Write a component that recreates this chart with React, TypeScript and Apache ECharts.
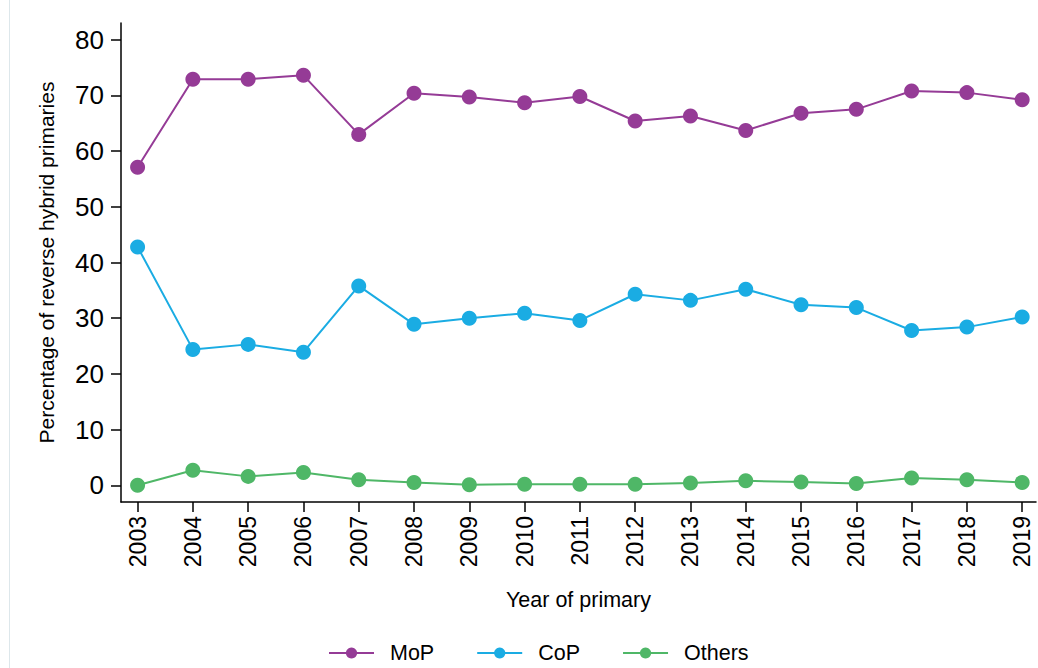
import React, { useEffect, useRef } from "react";
import * as echarts from "echarts";

const years = [2003, 2004, 2005, 2006, 2007, 2008, 2009, 2010, 2011, 2012, 2013, 2014, 2015, 2016, 2017, 2018, 2019];
const mop = [57.1, 72.9, 72.9, 73.6, 63.0, 70.4, 69.7, 68.7, 69.8, 65.4, 66.3, 63.7, 66.8, 67.5, 70.8, 70.5, 69.2];
const cop = [42.8, 24.4, 25.3, 23.9, 35.8, 28.9, 30.0, 30.9, 29.6, 34.3, 33.2, 35.2, 32.4, 31.9, 27.8, 28.4, 30.2];
const others = [0.0, 2.7, 1.6, 2.3, 1.0, 0.5, 0.1, 0.2, 0.2, 0.2, 0.4, 0.8, 0.6, 0.3, 1.3, 1.0, 0.5];
const yTicks = [0, 10, 20, 30, 40, 50, 60, 70, 80];

const FONT = "'Liberation Sans', Arial, sans-serif";

export default function App() {
  const ref = useRef<HTMLDivElement>(null);
  useEffect(() => {
    document.body.style.margin = "0";
    const chart = echarts.init(ref.current!, undefined, { renderer: "svg" });
    const mk = (name: string, vals: number[], color: string) => ({
      name,
      type: "line",
      data: years.map((y, i) => [y, vals[i]]),
      symbol: "circle",
      symbolSize: 15,
      showSymbol: true,
      lineStyle: { width: 2, color },
      itemStyle: { color },
      emphasis: { disabled: true },
    });
    chart.setOption({
      animation: false,
      backgroundColor: "#ffffff",
      textStyle: { fontFamily: FONT },
      grid: { left: 121, right: 2, top: 23, bottom: 166, containLabel: false },
      xAxis: {
        type: "value",
        min: 2002.7,
        max: 2019.25,
        name: "Year of primary",
        nameLocation: "middle",
        nameGap: 87,
        nameTextStyle: { fontSize: 21.5, color: "#000", fontFamily: FONT },
        axisLine: { show: true, onZero: false, lineStyle: { color: "#000", width: 1.5 } },
        axisTick: { show: true, length: 10, customValues: years, lineStyle: { color: "#000", width: 1.5 } },
        axisLabel: {
          customValues: years,
          rotate: 90,
          margin: 14,
          fontSize: 23,
          color: "#000",
          fontFamily: FONT,
          formatter: (v: number) => String(v),
        },
        splitLine: { show: false },
      },
      yAxis: {
        type: "value",
        min: -3,
        max: 83,
        name: "Percentage of reverse hybrid primaries",
        nameLocation: "middle",
        nameGap: 64,
        nameTextStyle: { fontSize: 21, color: "#000", fontFamily: FONT },
        axisLine: { show: true, onZero: false, lineStyle: { color: "#000", width: 1.5 } },
        axisTick: { show: true, length: 10, customValues: yTicks, lineStyle: { color: "#000", width: 1.5 } },
        axisLabel: { customValues: yTicks, margin: 17, fontSize: 26, color: "#000", fontFamily: FONT },
        splitLine: { show: false },
      },
      legend: {
        left: 323,
        top: 637,
        itemWidth: 45,
        itemHeight: 14,
        itemGap: 42,
        textStyle: { fontSize: 21.5, color: "#000", fontFamily: FONT, padding: [0, 0, 0, 11] },
        data: ["MoP", "CoP", "Others"],
      },
      graphic: [
        { type: "line", shape: { x1: 9.5, y1: 0, x2: 9.5, y2: 668 }, style: { stroke: "#dde7eb", lineWidth: 1 } },
      ],
      series: [mk("MoP", mop, "#953b96"), mk("CoP", cop, "#1aace3"), mk("Others", others, "#4fb767")],
    });
    return () => chart.dispose();
  }, []);
  return <div ref={ref} style={{ width: 1038, height: 668 }} />;
}
